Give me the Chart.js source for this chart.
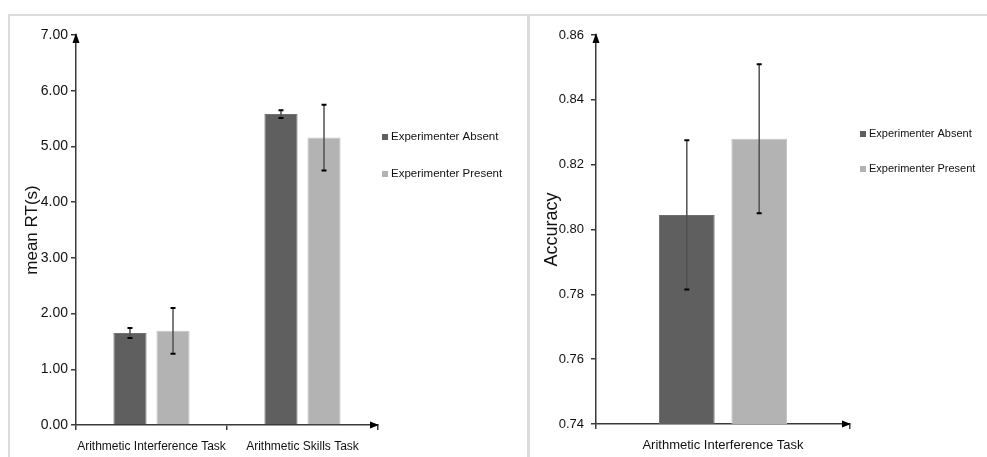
<!DOCTYPE html>
<html>
<head>
<meta charset="utf-8">
<script src="https://cdn.jsdelivr.net/npm/chart.js@4.4.1/dist/chart.umd.min.js"></script>
<style>
    html, body { margin: 0; padding: 0; background: #fff; }
    body { width: 987px; height: 457px; position: relative; overflow: hidden; }
    .panel { position: absolute; border: 2px solid #dcdcdc; box-sizing: border-box; }
    #leftPanel { left: 8px; top: 14px; width: 521px; height: 460px; }
    #rightPanel { left: 528px; top: 14px; width: 470px; height: 460px; }
    canvas { position: absolute; top: 0; }
    #rtChart { left: 0; }
    #accChart { left: 529px; }
</style>
</head>
<body>
<div class="panel" id="leftPanel"></div>
<div class="panel" id="rightPanel"></div>
<canvas id="rtChart" width="527" height="457"></canvas>
<canvas id="accChart" width="458" height="457"></canvas>
<script>
const seriesNames = ['Experimenter Absent', 'Experimenter Present'];
const seriesColors = ['#5f5f5f', '#b3b3b3'];
const seriesEdges = ['#707070', '#c4c4c4'];

const rtCategories = ['Arithmetic Interference Task', 'Arithmetic Skills Task'];
const rtAbsent = [1.65, 5.58];
const rtAbsentErr = [0.09, 0.07];
const rtPresent = [1.69, 5.16];
const rtPresentErr = [0.41, 0.59];

const accCategories = ['Arithmetic Interference Task'];
const accAbsent = [0.8045];
const accAbsentErr = [0.023];
const accPresent = [0.828];
const accPresentErr = [0.023];

const sans = '"Liberation Sans", Arial, sans-serif';
const axisColor = '#3a3a3a';

// error bars, axis arrows and legend drawn on top of the bars
const extras = {
    id: 'extras',
    afterDatasetsDraw(chart) {
        const ctx = chart.ctx;
        const y = chart.scales.y;
        chart.data.datasets.forEach((ds, i) => {
            chart.getDatasetMeta(i).data.forEach((bar, j) => {
                const v = ds.data[j], e = ds.errors[j];
                const yTop = y.getPixelForValue(v + e);
                const yBot = y.getPixelForValue(v - e);
                ctx.save();
                ctx.strokeStyle = '#505050';
                ctx.lineWidth = 1.5;
                ctx.beginPath();
                ctx.moveTo(bar.x, yTop);
                ctx.lineTo(bar.x, yBot);
                ctx.stroke();
                ctx.strokeStyle = '#000';
                ctx.lineWidth = 2;
                ctx.beginPath();
                ctx.moveTo(bar.x - 2.5, yTop); ctx.lineTo(bar.x + 2.5, yTop);
                ctx.moveTo(bar.x - 2.5, yBot); ctx.lineTo(bar.x + 2.5, yBot);
                ctx.stroke();
                ctx.restore();
            });
        });
    },
    afterDraw(chart, args, opts) {
        const ctx = chart.ctx;
        const a = chart.chartArea;
        ctx.save();
        ctx.fillStyle = '#000';
        ctx.beginPath();
        ctx.moveTo(a.left, a.top - 2);
        ctx.lineTo(a.left - 3.5, a.top + 8);
        ctx.lineTo(a.left + 3.5, a.top + 8);
        ctx.closePath();
        ctx.fill();
        ctx.beginPath();
        ctx.moveTo(a.right + 1, a.bottom);
        ctx.lineTo(a.right - 8, a.bottom - 3.5);
        ctx.lineTo(a.right - 8, a.bottom + 3.5);
        ctx.closePath();
        ctx.fill();

        ctx.font = opts.fontSize + 'px ' + sans;
        ctx.textBaseline = 'middle';
        seriesNames.forEach((name, i) => {
            const ly = opts.y[i];
            ctx.fillStyle = seriesColors[i];
            ctx.fillRect(opts.x, ly - 3, 6, 6);
            ctx.fillStyle = '#111';
            ctx.fillText(name, opts.x + 9, ly);
        });
        ctx.restore();
    }
};

function makeChart(id, cfg) {
    const datasets = cfg.values.map((vals, i) => ({
        label: seriesNames[i],
        data: vals,
        errors: cfg.errors[i],
        backgroundColor: seriesColors[i],
        borderColor: seriesEdges[i],
        borderWidth: 1,
        categoryPercentage: 0.57,
        barPercentage: 0.77
    }));

    return new Chart(document.getElementById(id), {
        type: 'bar',
        data: { labels: cfg.labels, datasets: datasets },
        plugins: [extras],
        options: {
            responsive: false,
            animation: false,
            layout: { padding: { left: 0, top: 35, right: cfg.padRight, bottom: 0 } },
            plugins: {
                legend: { display: false },
                tooltip: { enabled: false },
                extras: cfg.legend
            },
            scales: {
                x: {
                    afterFit: s => { s.height = cfg.xHeight; },
                    border: { color: axisColor, width: 1.5 },
                    grid: { offset: true, drawOnChartArea: false, tickLength: 5, color: axisColor, lineWidth: 1.5 },
                    ticks: {
                        color: '#111', padding: 9, maxRotation: 0, minRotation: 0, autoSkip: false,
                        font: { family: sans, size: cfg.catSize }
                    }
                },
                y: {
                    min: cfg.min,
                    max: cfg.max,
                    afterFit: s => { s.width = cfg.yWidth; },
                    border: { color: axisColor, width: 1.5 },
                    grid: { drawOnChartArea: false, tickLength: 5, color: axisColor, lineWidth: 1.5 },
                    ticks: {
                        stepSize: cfg.step,
                        color: '#111',
                        padding: cfg.tickPad,
                        font: { family: sans, size: cfg.tickSize },
                        callback: v => Number(v).toFixed(2)
                    },
                    title: {
                        display: true,
                        text: cfg.title,
                        color: '#111',
                        padding: { top: cfg.titlePad, bottom: 0 },
                        font: { family: sans, size: cfg.titleSize }
                    }
                }
            }
        }
    });
}

makeChart('rtChart', {
    labels: rtCategories,
    values: [rtAbsent, rtPresent],
    errors: [rtAbsentErr, rtPresentErr],
    min: 0, max: 7, step: 1,
    yWidth: 76, xHeight: 32, padRight: 149,
    tickSize: 14, tickPad: 3, catSize: 12,
    title: 'mean RT(s)', titleSize: 17, titlePad: 22,
    legend: { x: 382, y: [137, 174], fontSize: 11.5 }
});

makeChart('accChart', {
    labels: accCategories,
    values: [accAbsent, accPresent],
    errors: [accAbsentErr, accPresentErr],
    min: 0.74, max: 0.86, step: 0.02,
    yWidth: 67, xHeight: 33, padRight: 137,
    tickSize: 13, tickPad: 7, catSize: 13,
    title: 'Accuracy', titleSize: 18, titlePad: 12,
    legend: { x: 331, y: [134, 169], fontSize: 11 }
});
</script>
</body>
</html>
